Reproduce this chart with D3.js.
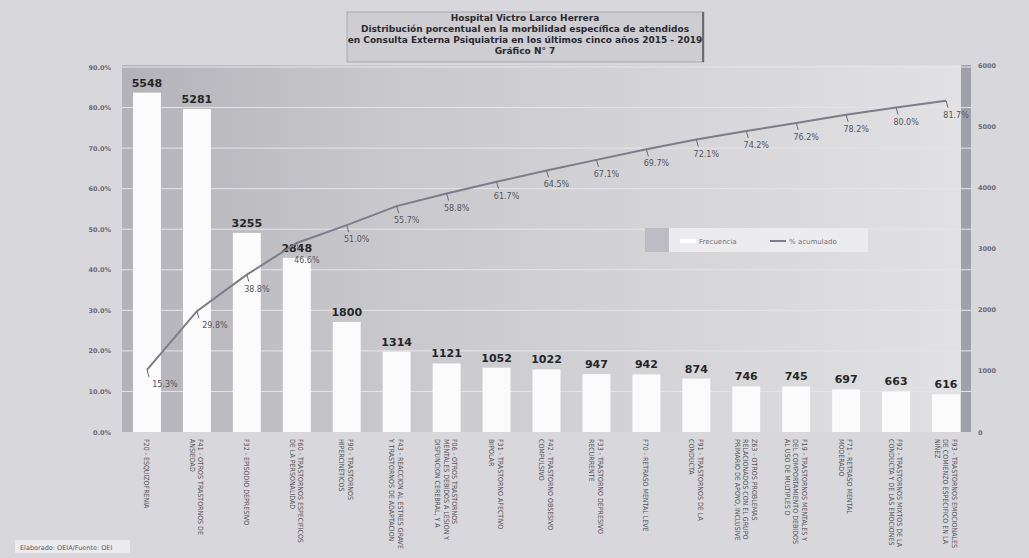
<!DOCTYPE html>
<html><head><meta charset="utf-8">
<script src="https://cdn.jsdelivr.net/npm/d3@7"></script>
<style>
body{margin:0;background:#d8d8dc;}
svg{display:block;font-family:"DejaVu Sans",Verdana,sans-serif;}
</style></head>
<body>
<svg id="chart" width="1029" height="558"></svg>
<script>
const titleLines = ["Hospital Victro Larco Herrera",
  "Distribución porcentual en la morbilidad específica de atendidos",
  "en Consulta Externa Psiquiatria  en los últimos cinco años 2015 - 2019",
  "Gráfico N° 7"];
const categories = [
  ["F20 - ESQUIZOFRENIA"],
  ["F41 - OTROS TRASTORNOS DE","ANSIEDAD"],
  ["F32 - EPISODIO DEPRESIVO"],
  ["F60 - TRASTORNOS ESPECIFICOS","DE LA PERSONALIDAD"],
  ["F90 - TRASTORNOS","HIPERCINÉTICOS"],
  ["F43 - REACCION AL ESTRES GRAVE","Y TRASTORNOS DE ADAPTACION"],
  ["F06 - OTROS TRASTORNOS","MENTALES DEBIDOS A LESION Y","DISFUNCION CEREBRAL, Y A"],
  ["F31 - TRASTORNO AFECTIVO","BIPOLAR"],
  ["F42 - TRASTORNO OBSESIVO","COMPULSIVO"],
  ["F33 - TRASTORNO DEPRESIVO","RECURRENTE"],
  ["F70 - RETRASO MENTAL LEVE"],
  ["F91 - TRASTORNOS DE LA","CONDUCTA"],
  ["Z63 - OTROS PROBLEMAS","RELACIONADOS CON EL GRUPO","PRIMARIO DE APOYO, INCLUSIVE"],
  ["F19 - TRASTORNOS MENTALES Y","DEL COMPORTAMIENTO DEBIDOS","AL USO DE MULTIPLES D"],
  ["F71 - RETRASO MENTAL","MODERADO"],
  ["F92 - TRASTORNOS MIXTOS DE LA","CONDUCTA Y DE LAS EMOCIONES"],
  ["F93 - TRASTORNOS EMOCIONALES","DE COMIENZO ESPECIFICO EN LA","NIÑEZ"]
];
const frecuencia = [5548,5281,3255,2848,1800,1314,1121,1052,1022,947,942,874,746,745,697,663,616];
const acumulado = [15.3,29.8,38.8,46.6,51.0,55.7,58.8,61.7,64.5,67.1,69.7,72.1,74.2,76.2,78.2,80.0,81.7];
const leftTicks = [0,10,20,30,40,50,60,70,80,90];
const rightTicks = [0,1000,2000,3000,4000,5000,6000];
const legendLabels = ["Frecuencia","% acumulado"];
const footer = "Elaborado: OEIA/Fuente: OEI";

const svg = d3.select("#chart");
const ids = categories.map((c,i)=>i);
const plot = {l:122, r:971, t:65, b:432};

const defs = svg.append("defs");
const g1 = defs.append("linearGradient").attr("id","bg").attr("x1","0").attr("x2","1").attr("y1","0").attr("y2","0");
g1.append("stop").attr("offset","0").attr("stop-color","#b2b2b8");
g1.append("stop").attr("offset","0.3").attr("stop-color","#c8c8cc");
g1.append("stop").attr("offset","1").attr("stop-color","#e2e2e4");

const x = d3.scaleBand().domain(ids).range([plot.l, plot.r]).paddingInner(0.44).paddingOuter(0.22);
const yR = d3.scaleLinear().domain([0,6000]).range([plot.b, plot.t]);
const yL = d3.scaleLinear().domain([0,90]).range([plot.b, 67]);

// plot background
svg.append("rect").attr("x",plot.l).attr("y",plot.t).attr("width",plot.r-plot.l).attr("height",plot.b-plot.t).attr("fill","url(#bg)");
svg.append("rect").attr("x",961).attr("y",plot.t).attr("width",10).attr("height",plot.b-plot.t).attr("fill","#a0a0a8");

// gridlines
svg.append("g").selectAll("line").data(leftTicks.slice(1)).join("line")
  .attr("x1",plot.l).attr("x2",plot.r).attr("y1",d=>yL(d)).attr("y2",d=>yL(d))
  .attr("stroke","#e6e4ea").attr("stroke-width",1);

// bars
svg.append("g").selectAll("rect").data(frecuencia).join("rect")
  .attr("x",(d,i)=>x(i)).attr("width",x.bandwidth())
  .attr("y",d=>yR(d)).attr("height",d=>plot.b-yR(d)).attr("fill","#fbfbfb");

// bar value labels
svg.append("g").selectAll("text").data(frecuencia).join("text")
  .attr("x",(d,i)=>x(i)+x.bandwidth()/2).attr("y",d=>yR(d)-6)
  .attr("text-anchor","middle").attr("font-size",11).attr("font-weight","bold").attr("fill","#262628")
  .text(d=>d);

// cumulative line
const cx = i=>x(i)+x.bandwidth()/2;
svg.append("path").datum(acumulado)
  .attr("d", d3.line().x((d,i)=>cx(i)).y(d=>yL(d)))
  .attr("fill","none").attr("stroke","#7c7c8a").attr("stroke-width",2);
const lab = svg.append("g");
lab.selectAll("line").data(acumulado).join("line")
  .attr("x1",(d,i)=>cx(i)).attr("y1",d=>yL(d)).attr("x2",(d,i)=>cx(i)+2).attr("y2",d=>yL(d)+7)
  .attr("stroke","#6a6a76").attr("stroke-width",1);
lab.selectAll("text").data(acumulado).join("text")
  .attr("x",(d,i)=>cx(i)+(i<2?18:10)).attr("y",(d,i)=>yL(d)+(i===3?20:17))
  .attr("text-anchor","middle").attr("font-size",8).attr("fill","#55555f")
  .text(d=>d.toFixed(1)+"%");

// axes
const axL = svg.append("g").attr("transform",`translate(${plot.l-8},0)`)
  .call(d3.axisLeft(yL).tickValues(leftTicks).tickSize(0).tickFormat(d=>d.toFixed(1)+"%"));
axL.select(".domain").remove();
axL.selectAll("text").attr("font-size",6.5).attr("font-weight","bold").attr("fill","#6a6a7a").attr("font-family","DejaVu Sans");
const axR = svg.append("g").attr("transform",`translate(${plot.r+4},0)`)
  .call(d3.axisRight(yR).tickValues(rightTicks).tickSize(0).tickFormat(d3.format("d")));
axR.select(".domain").remove();
axR.selectAll("text").attr("font-size",6.5).attr("font-weight","bold").attr("fill","#6a6a7a").attr("font-family","DejaVu Sans");

// x labels (rotated)
const xl = svg.append("g");
const maxLen = 116;
categories.forEach((lines,i)=>{
  const n = lines.length, lh = 8.5;
  const t = xl.append("text")
    .attr("transform",`translate(${cx(i)+((n-1)*lh)/2 - 3},${plot.b+7}) rotate(90)`)
    .attr("font-family","'DejaVu Sans Condensed','DejaVu Sans',sans-serif")
    .attr("font-size",7).attr("fill","#505058");
  const spans = lines.map((s,j)=>t.append("tspan").attr("x",0).attr("dy",j===0?0:lh).text(s));
  const w = d3.max(spans, s=>s.node().getComputedTextLength());
  if (w > maxLen) t.attr("font-size", 7*maxLen/w);
});

// title box
const tb = svg.append("g");
tb.append("rect").attr("x",347).attr("y",12).attr("width",357).attr("height",50)
  .attr("fill","#cdcdd2").attr("stroke","#a8a8ae").attr("stroke-width",1);
tb.append("line").attr("x1",703).attr("x2",703).attr("y1",12).attr("y2",62).attr("stroke","#333").attr("stroke-width",1.2);
tb.selectAll("text").data(titleLines).join("text")
  .attr("x",525).attr("y",(d,i)=>21+i*11).attr("text-anchor","middle")
  .attr("font-size",9).attr("font-weight","bold").attr("fill","#2a2a30").text(d=>d);

// legend
const lg = svg.append("g");
lg.append("rect").attr("x",645).attr("y",228).attr("width",223).attr("height",24).attr("fill","#ececee");
lg.append("rect").attr("x",645).attr("y",228).attr("width",24).attr("height",24).attr("fill","#bcbcc2");
lg.append("line").attr("x1",680).attr("x2",696).attr("y1",241).attr("y2",241).attr("stroke","#ffffff").attr("stroke-width",4);
lg.append("text").attr("x",699).attr("y",243.5).attr("font-size",7).attr("fill","#70707a").text(legendLabels[0]);
lg.append("line").attr("x1",770).attr("x2",786).attr("y1",241).attr("y2",241).attr("stroke","#7c7c8a").attr("stroke-width",2);
lg.append("text").attr("x",789).attr("y",243.5).attr("font-size",7).attr("fill","#70707a").text(legendLabels[1]);

// footer
svg.append("rect").attr("x",15).attr("y",540).attr("width",115).attr("height",13).attr("fill","#ececee");
svg.append("text").attr("x",20).attr("y",549.5).attr("font-size",6.5).attr("fill","#55555f").text(footer);
</script>
</body></html>
